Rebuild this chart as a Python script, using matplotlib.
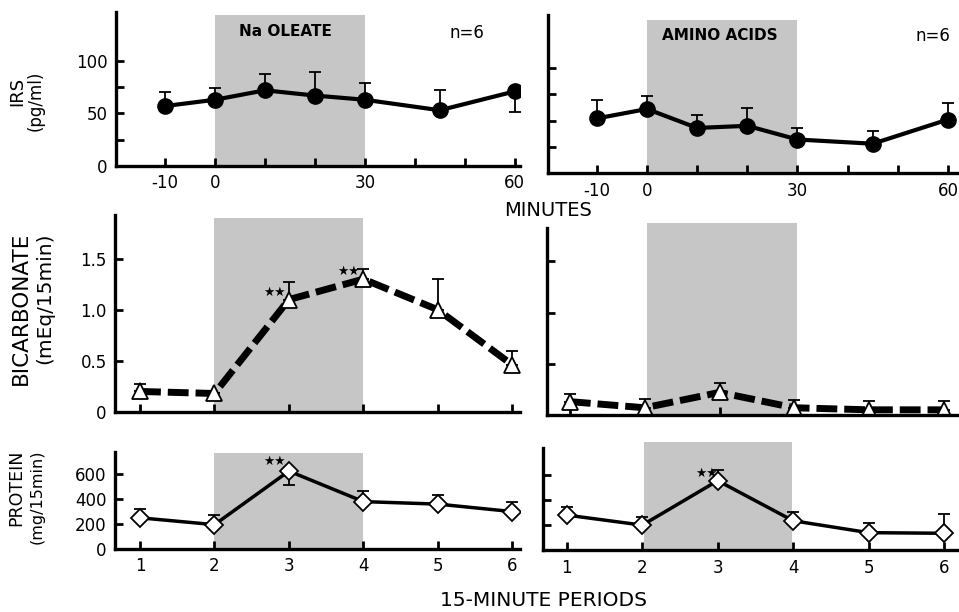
import numpy as np
import matplotlib
matplotlib.use("Agg")
import matplotlib.pyplot as plt

plt.rcParams['font.family'] = ['DejaVu Sans']

# IRS (pg/ml) against minutes
minutes = [-10, 0, 10, 20, 30, 45, 60]
irs_oleate = [57, 63, 72, 67, 63, 53, 71]
irs_oleate_hi = [13, 11, 16, 22, 16, 19, 0]
irs_oleate_lo = [0, 0, 0, 0, 0, 0, 20]
irs_amino = [52, 61, 43, 45, 32, 28, 51]
irs_amino_hi = [18, 12, 12, 17, 11, 12, 16]

# bicarbonate (mEq/15min) and protein (mg/15min) against 15-min periods
periods = [1, 2, 3, 4, 5, 6]
bic_oleate = [0.20, 0.18, 1.10, 1.30, 1.00, 0.46]
bic_oleate_hi = [0.07, 0.0, 0.17, 0.10, 0.30, 0.14]
bic_amino = [0.13, 0.07, 0.22, 0.07, 0.05, 0.05]
bic_amino_hi = [0.07, 0.09, 0.09, 0.08, 0.09, 0.09]
prot_oleate = [250, 195, 625, 380, 360, 300]
prot_oleate_hi = [70, 75, 0, 85, 70, 75]
prot_oleate_lo = [0, 0, 110, 0, 0, 0]
prot_amino = [280, 200, 555, 235, 140, 135]
prot_amino_hi = [65, 65, 85, 70, 80, 150]

min_ticks = [-10, 0, 10, 20, 30, 40, 50, 60]
min_labels = ['-10', '0', '', '', '30', '', '', '60']

shade = '#c6c6c6'
fig = plt.figure(figsize=(9.59, 6.12), dpi=100)

def setup(ax, xlim, ylim):
    ax.set_xlim(*xlim)
    ax.set_ylim(*ylim)
    for s in ['top', 'right']:
        ax.spines[s].set_visible(False)
    for s in ['left', 'bottom']:
        ax.spines[s].set_linewidth(2.4)
    ax.tick_params(direction='in', length=6, width=2, labelsize=12, pad=6)
    ax.patch.set_alpha(0)

# --- top row: IRS
ax1 = fig.add_axes([0.121, 0.729, 0.421, 0.252])
setup(ax1, (-19.8, 61), (0, 147))
ax1.fill_between([0, 30], 0, 144, color=shade, lw=0, zorder=0)
ax1.errorbar(minutes, irs_oleate, yerr=[irs_oleate_lo, irs_oleate_hi], fmt='o-',
             color='black', lw=3, ms=11, elinewidth=1.3, capsize=4, capthick=1.3)
ax1.set_xticks(min_ticks)
ax1.set_xticklabels(min_labels)
ax1.set_yticks([0, 25, 50, 75, 100])
ax1.set_yticklabels(['0', '', '50', '', '100'])
ax1.text(0.42, 0.87, 'Na OLEATE', transform=ax1.transAxes, ha='center', va='center',
         fontsize=11, fontweight='bold')
ax1.text(0.87, 0.86, 'n=6', transform=ax1.transAxes, ha='center', va='center', fontsize=12)

ax2 = fig.add_axes([0.571, 0.717, 0.428, 0.258])
setup(ax2, (-19.8, 62), (0, 150))
ax2.fill_between([0, 30], 0, 146, color=shade, lw=0, zorder=0)
ax2.errorbar(minutes, irs_amino, yerr=[[0] * 7, irs_amino_hi], fmt='o-',
             color='black', lw=3, ms=11, elinewidth=1.3, capsize=4, capthick=1.3)
ax2.set_xticks(min_ticks)
ax2.set_xticklabels(min_labels)
ax2.set_yticks([25, 50, 75, 100])
ax2.set_yticklabels([])
ax2.text(0.42, 0.87, 'AMINO ACIDS', transform=ax2.transAxes, ha='center', va='center',
         fontsize=11, fontweight='bold')
ax2.text(0.94, 0.87, 'n=6', transform=ax2.transAxes, ha='center', va='center', fontsize=12)

# --- middle row: bicarbonate
ax3 = fig.add_axes([0.120, 0.327, 0.422, 0.322])
setup(ax3, (0.665, 6.1), (0, 1.93))
ax3.fill_between([2, 4], 0, 1.90, color=shade, lw=0, zorder=0)
ax3.errorbar(periods, bic_oleate, yerr=[[0] * 6, bic_oleate_hi], fmt='none',
             ecolor='black', elinewidth=1.3, capsize=4, capthick=1.3)
ax3.plot(periods, bic_oleate, color='black', lw=5, dashes=(3, 1), marker='^', ms=11,
         mfc='white', mec='black', mew=1.3)
ax3.set_xticks(periods)
ax3.set_xticklabels([])
ax3.set_yticks([0, 0.5, 1.0, 1.5])
ax3.set_yticklabels(['0', '0.5', '1.0', '1.5'])
ax3.text(2.8, 1.17, '★★', ha='center', va='center', fontsize=9)
ax3.text(3.8, 1.38, '★★', ha='center', va='center', fontsize=9)

ax4 = fig.add_axes([0.570, 0.322, 0.430, 0.306])
setup(ax4, (0.69, 6.2), (0, 1.83))
ax4.fill_between([2.03, 4.03], 0, 1.88, color=shade, lw=0, zorder=0, clip_on=False)
ax4.errorbar(periods, bic_amino, yerr=[[0] * 6, bic_amino_hi], fmt='none',
             ecolor='black', elinewidth=1.3, capsize=4, capthick=1.3)
ax4.plot(periods, bic_amino, color='black', lw=5, dashes=(3, 1), marker='^', ms=11,
         mfc='white', mec='black', mew=1.3)
ax4.set_xticks(periods)
ax4.set_xticklabels([])
ax4.set_yticks([0.5, 1.0, 1.5])
ax4.set_yticklabels([])

# --- bottom row: protein
ax5 = fig.add_axes([0.120, 0.103, 0.422, 0.158])
setup(ax5, (0.665, 6.1), (0, 776))
ax5.fill_between([2, 4], 0, 770, color=shade, lw=0, zorder=0)
ax5.errorbar(periods, prot_oleate, yerr=[prot_oleate_lo, prot_oleate_hi], fmt='D-',
             color='black', lw=2.5, ms=9, mfc='white', mec='black', mew=1.3,
             elinewidth=1.3, capsize=4, capthick=1.3)
ax5.set_xticks(periods)
ax5.set_yticks([0, 200, 400, 600])
ax5.text(2.8, 700, '★★', ha='center', va='center', fontsize=9)

ax6 = fig.add_axes([0.566, 0.101, 0.434, 0.167])
setup(ax6, (0.68, 6.2), (0, 816))
ax6.fill_between([2.02, 3.98], 0, 860, color=shade, lw=0, zorder=0, clip_on=False)
ax6.errorbar(periods, prot_amino, yerr=[[0] * 6, prot_amino_hi], fmt='D-',
             color='black', lw=2.5, ms=9, mfc='white', mec='black', mew=1.3,
             elinewidth=1.3, capsize=4, capthick=1.3)
ax6.set_xticks(periods)
ax6.set_yticks([200, 400, 600])
ax6.set_yticklabels([])
ax6.text(2.85, 615, '★★', ha='center', va='center', fontsize=9)

# axis titles
fig.text(17 / 959, 1 - 91 / 612, 'IRS', rotation=90, ha='center', va='center', fontsize=13)
fig.text(36 / 959, 1 - 101 / 612, '(pg/ml)', rotation=90, ha='center', va='center', fontsize=12)
fig.text(21 / 959, 1 - 232 / 612, 'BICARBONATE', rotation=90, ha='center', va='top', fontsize=15.5)
fig.text(45 / 959, 1 - 232 / 612, '(mEq/15min)', rotation=90, ha='center', va='top', fontsize=14.5)
fig.text(16 / 959, 1 - 450 / 612, 'PROTEIN', rotation=90, ha='center', va='top', fontsize=12.5)
fig.text(37 / 959, 1 - 450 / 612, '(mg/15min)', rotation=90, ha='center', va='top', fontsize=11.5)
fig.text(548 / 959, 1 - 210 / 612, 'MINUTES', ha='center', va='center', fontsize=14)
fig.text(543 / 959, 1 - 600 / 612, '15-MINUTE PERIODS', ha='center', va='center', fontsize=14.5)

fig.savefig('out.png', dpi=100)
